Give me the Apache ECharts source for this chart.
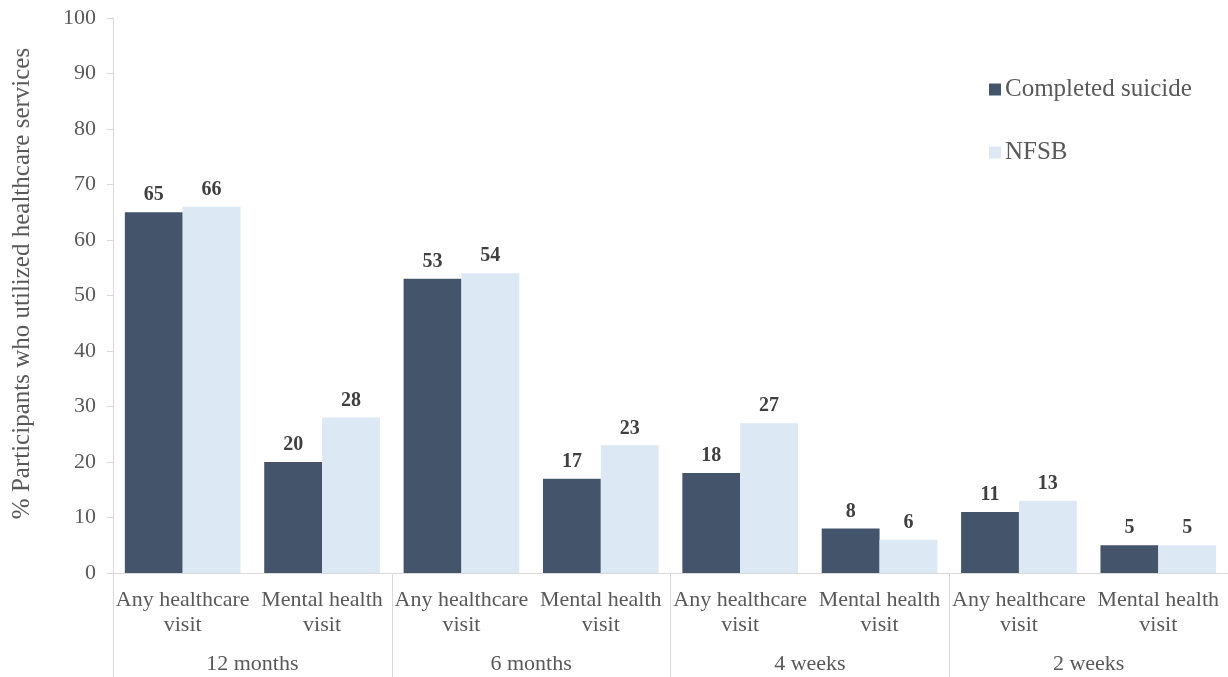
<!DOCTYPE html>
<html>
<head>
<meta charset="utf-8">
<script src="https://cdn.jsdelivr.net/npm/echarts@6/dist/echarts.min.js"></script>
<style>
  html, body { margin: 0; padding: 0; background: #fff; }
  #chart { width: 1228px; height: 677px; }
</style>
</head>
<body>
<div id="chart"></div>
<script>
// Healthcare use before the event, by look-back window
const visitTypes = ['Any healthcare\nvisit', 'Mental health\nvisit'];
const periods = ['12 months', '6 months', '4 weeks', '2 weeks'];
const seriesNames = ['Completed suicide', 'NFSB'];
const completedSuicide = [65, 20, 53, 17, 18, 8, 11, 5];
const nfsb = [66, 28, 54, 23, 27, 6, 13, 5];
const yTicks = { min: 0, max: 100, interval: 10 };

const categories = [];
periods.forEach(() => visitTypes.forEach(v => categories.push(v)));

const FONT = '"Liberation Serif", "Times New Roman", serif';
const axisGray = '#d9d9d9';
const textGray = '#595959';

const chart = echarts.init(document.getElementById('chart'), null, { renderer: 'canvas' });

const labelStyle = {
  show: true,
  position: 'top',
  distance: 7,
  fontFamily: FONT,
  fontSize: 20,
  fontWeight: 'bold',
  color: '#404040'
};

chart.setOption({
  backgroundColor: '#ffffff',
  animation: false,
  grid: { left: 113, right: 0, top: 18, bottom: 104, containLabel: false, outerBoundsMode: 'none' },
  legend: {
    orient: 'vertical',
    left: 984,
    top: 72,
    itemGap: 38,
    itemWidth: 12,
    itemHeight: 12,
    icon: 'rect',
    textStyle: { fontFamily: FONT, fontSize: 25, color: textGray, padding: [0, 0, 0, -1] },
    data: seriesNames
  },
  xAxis: [
    {
      type: 'category',
      data: categories,
      position: 'bottom',
      axisLine: { show: true, lineStyle: { color: axisGray, width: 1 } },
      axisTick: { show: false },
      axisLabel: {
        interval: 0,
        margin: 15,
        fontFamily: FONT,
        fontSize: 22,
        lineHeight: 25,
        color: textGray
      }
    },
    {
      type: 'category',
      data: periods,
      position: 'bottom',
      axisLine: { show: false },
      axisTick: { show: true, length: 104, alignWithLabel: false, lineStyle: { color: axisGray, width: 1 } },
      axisLabel: {
        interval: 0,
        margin: 80,
        fontFamily: FONT,
        fontSize: 22,
        color: textGray
      }
    }
  ],
  yAxis: {
    type: 'value',
    min: yTicks.min,
    max: yTicks.max,
    interval: yTicks.interval,
    name: '% Participants who utilized healthcare services',
    nameLocation: 'middle',
    nameGap: 78,
    nameRotate: 90,
    nameTextStyle: { fontFamily: FONT, fontSize: 25, color: textGray, padding: [0, 0, 0, 24] },
    axisLine: { show: true, lineStyle: { color: axisGray, width: 1 } },
    axisTick: { show: true, inside: false, length: 6, lineStyle: { color: axisGray } },
    splitLine: { show: false },
    axisLabel: { margin: 17, fontFamily: FONT, fontSize: 22, color: textGray }
  },
  series: [
    {
      name: seriesNames[0],
      type: 'bar',
      xAxisIndex: 0,
      data: completedSuicide,
      barGap: '0%',
      barCategoryGap: '17%',
      itemStyle: { color: '#44546a' },
      label: labelStyle
    },
    {
      name: seriesNames[1],
      type: 'bar',
      xAxisIndex: 0,
      data: nfsb,
      barGap: '0%',
      barCategoryGap: '17%',
      itemStyle: { color: '#dde8f5' },
      label: labelStyle
    }
  ]
});
</script>
</body>
</html>
